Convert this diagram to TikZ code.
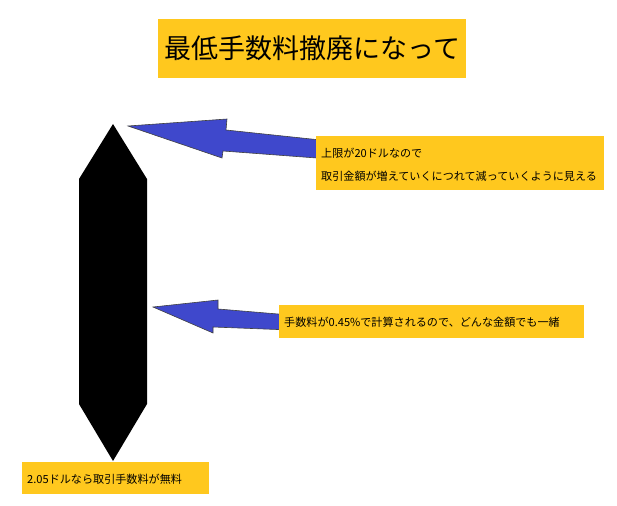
\documentclass[tikz,border=0pt]{standalone}
\usepackage{fontspec}
\setmainfont{Noto Sans CJK JP}
\definecolor{boxyellow}{HTML}{FFC81E}
\definecolor{arrowblue}{HTML}{3F48CC}
\tikzset{
  ybox/.style={fill=boxyellow, inner sep=0pt, anchor=north west},
  ytext/.style={anchor=west, inner sep=0pt, font=\fontsize{11.1}{22}\selectfont},
  bluearrow/.style={fill=arrowblue, draw=black!75, line width=0.6pt, line join=miter},
}
\begin{document}
\begin{tikzpicture}[x=1pt,y=-1pt]
\useasboundingbox (0,0) rectangle (617,505);
% title
\node[ybox, minimum width=308pt, minimum height=59pt, anchor=north west, font=\fontsize{27}{30}\selectfont] (title) at (158,19) {最低手数料撤廃になって};
% black double arrow
\fill[black] (113,124) -- (147,179) -- (147,404) -- (113,461) -- (79,404) -- (79,179) -- cycle;
\coordinate (toptip) at (113,124);
\coordinate (midside) at (147,307);
% blue arrows
\draw[bluearrow] (128,126) -- (227,119) -- (226,130) -- (330,141) -- (330,159) -- (223,151) -- (222,158) -- cycle;
\draw[bluearrow] (153,307) -- (218,300) -- (218,309) -- (290,315) -- (290,330) -- (213,327) -- (213,333) -- cycle;
% boxes
\node[ybox, minimum width=288pt, minimum height=54pt] (b1) at (316,136) {};
\node[ytext] (b1a) at (321,153) {上限が20ドルなので};
\node[ytext] (b1b) at (321,176) {取引金額が増えていくにつれて減っていくように見える};
\node[ybox, minimum width=305pt, minimum height=33pt] (b2) at (279,305) {};
\node[ytext] (b2t) at (284,322) {手数料が0.45\%で計算されるので、どんな金額でも一緒};
\node[ybox, minimum width=187pt, minimum height=32pt] (b3) at (22,462) {};
\node[ytext] (b3t) at (27,479) {2.05ドルなら取引手数料が無料};
\end{tikzpicture}
\end{document}
